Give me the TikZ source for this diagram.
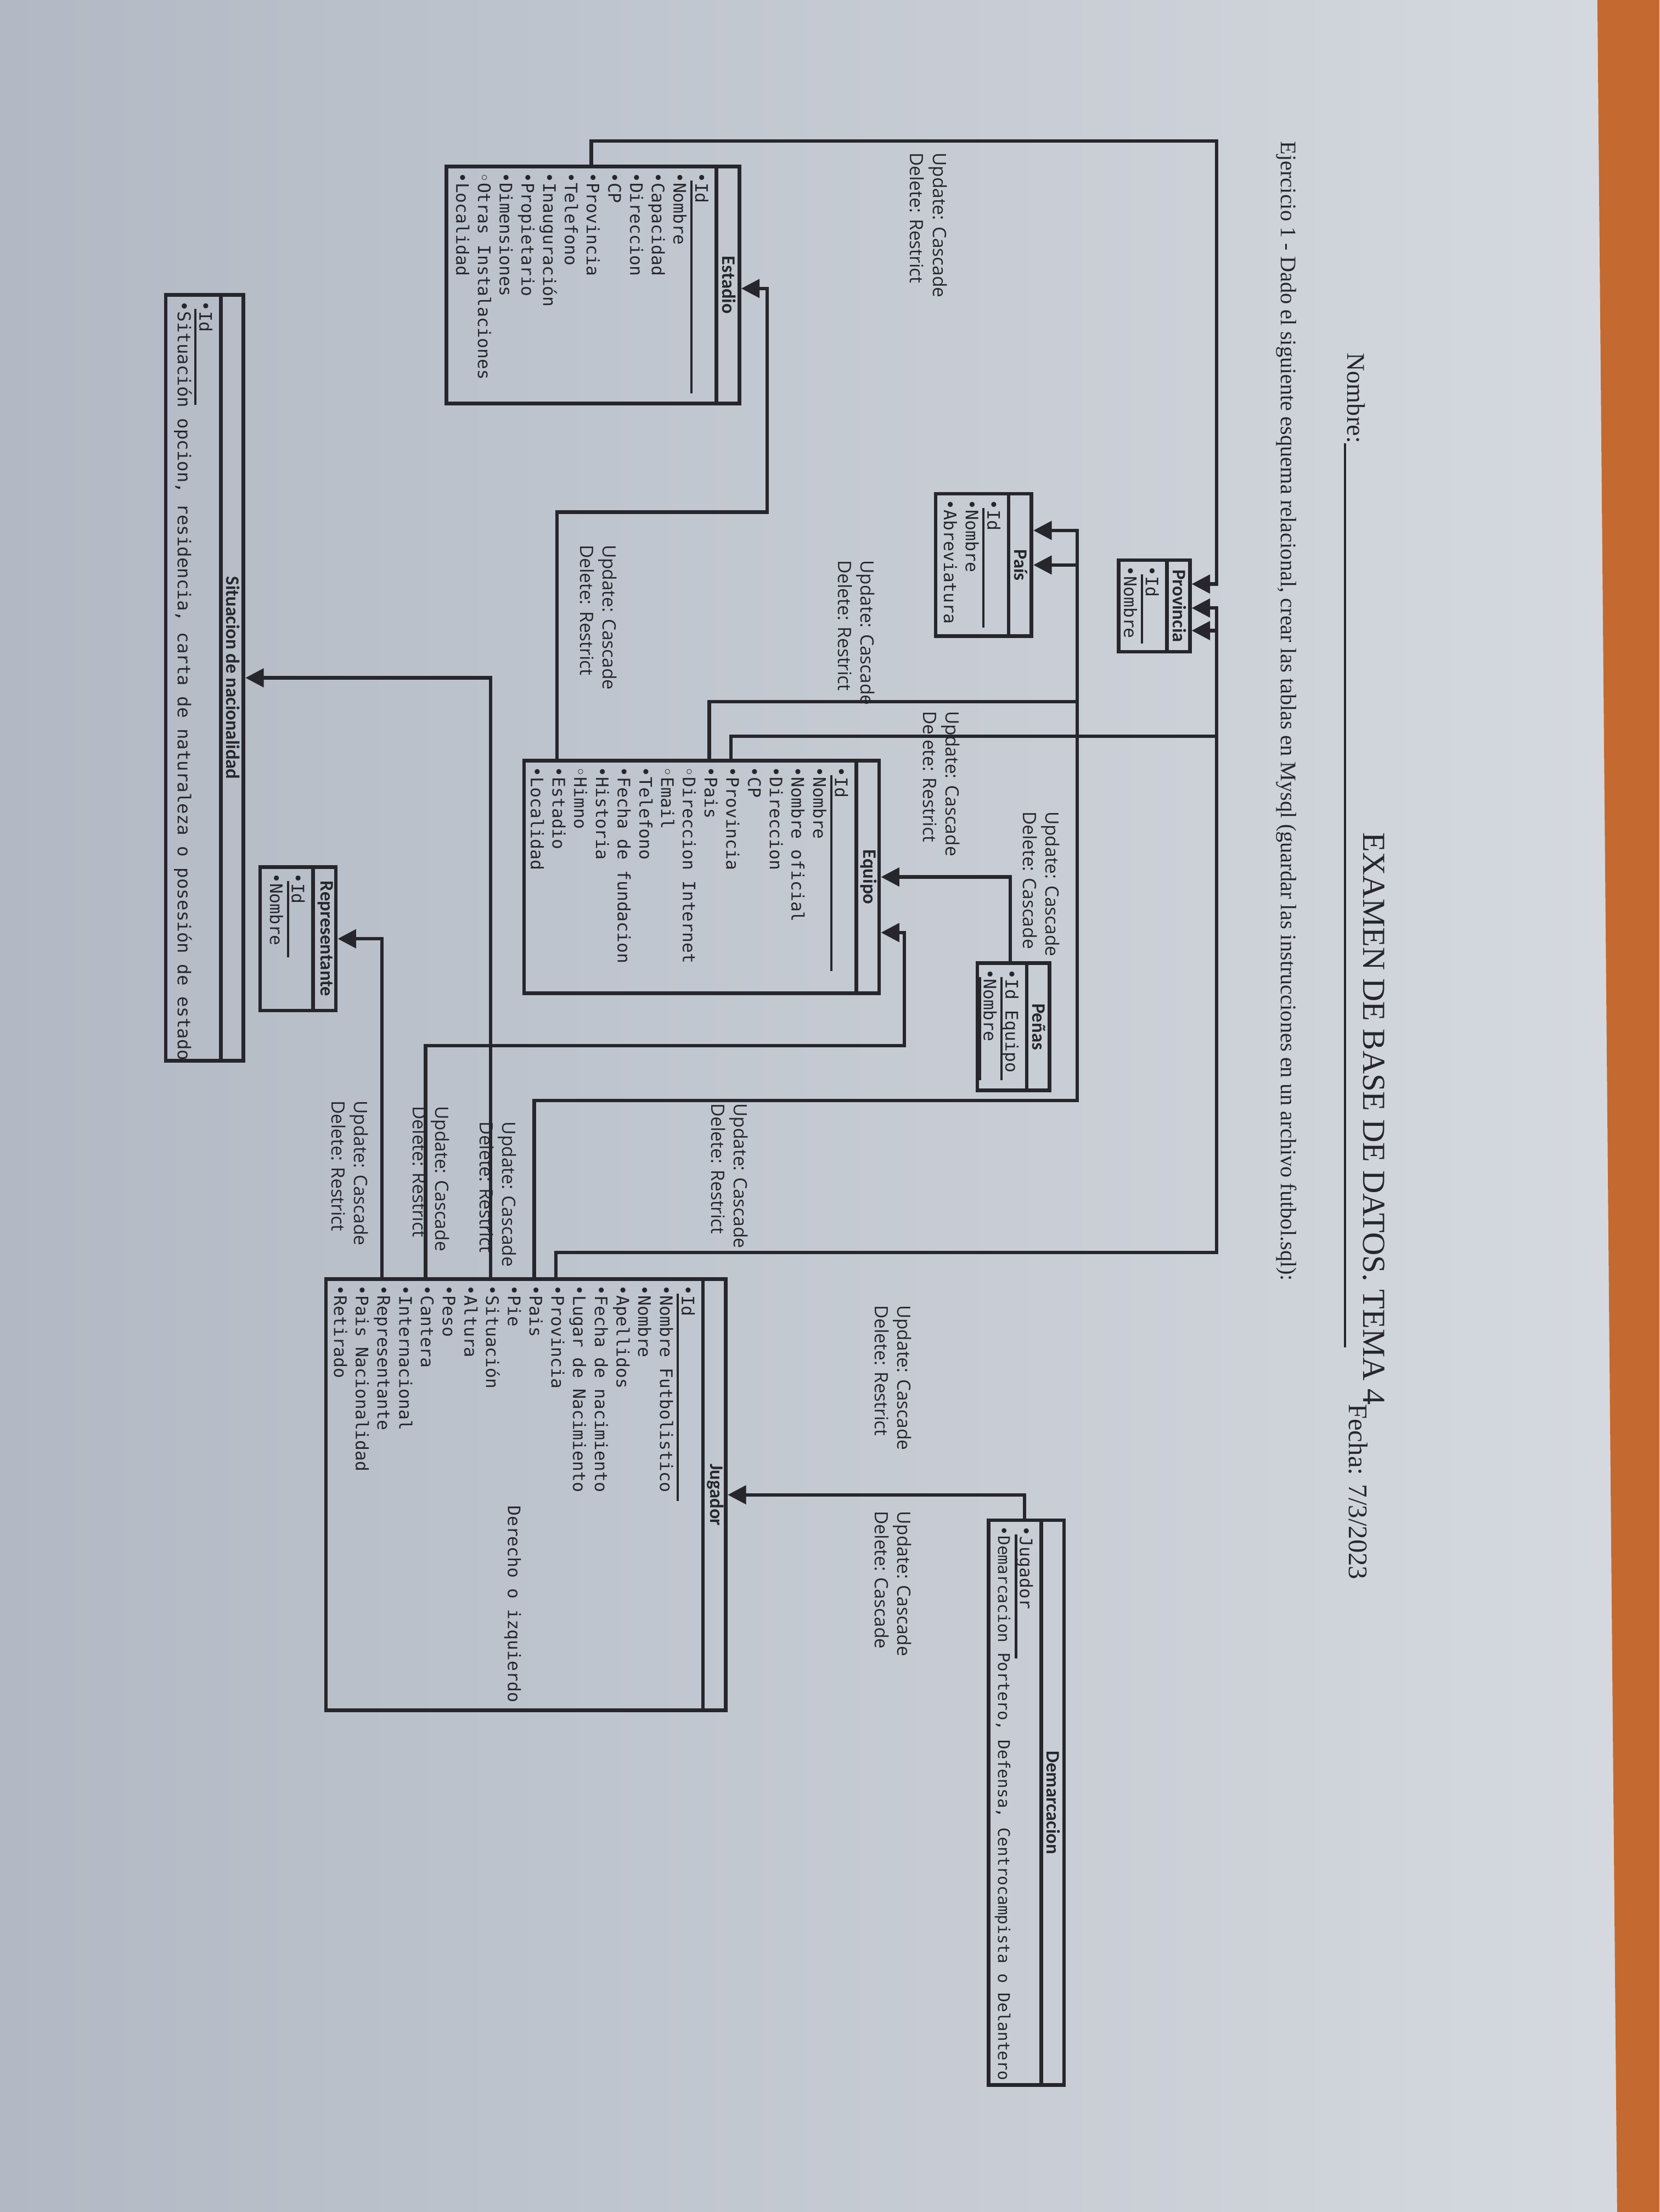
\documentclass[tikz,border=0pt]{standalone}
\usepackage{fontspec}
\setmainfont{Liberation Serif}
\newfontfamily\monofont{DejaVu Sans Mono}
\newfontfamily\cabfont{Carlito}
\newfontfamily\etiqfont{Open Sans}
\usetikzlibrary{arrows.meta}
\definecolor{papelosc}{RGB}{178,185,196}
\definecolor{papelcla}{RGB}{214,218,224}
\definecolor{madera}{RGB}{196,106,48}
\definecolor{tinta}{RGB}{38,38,44}
\tikzset{tabla/.style={draw=tinta, line width=2.6pt, rotate=-90, inner sep=0pt},
         cab/.style={rotate=-90, text=tinta, inner sep=0pt, font=\cabfont\bfseries\fontsize{13.5}{14}\selectfont},
         campo/.style={rotate=-90, anchor=west, text=tinta, inner sep=0pt, text height=9pt, text depth=2.5pt, font=\monofont\fontsize{12.2}{14}\selectfont},
         regla/.style={draw=tinta, line width=2.6pt},
         subr/.style={draw=tinta, line width=1.6pt},
         fk/.style={draw=tinta, line width=2.4pt, -{Triangle[length=13pt,width=13pt]}},
         etiq/.style={rotate=-90, anchor=west, align=left, text=tinta, inner sep=0pt, font=\etiqfont\fontsize{13}{16}\selectfont},
         titulo/.style={rotate=-90, anchor=base west, text=tinta, inner sep=0pt},
        }
% #1 name, #2 title, #3 X bottom, #4 X top, #5 Y left, #6 Y right, #7 fields
\newcommand{\tabla}[7]{%
  \node[tabla, minimum width={#6-#5}, minimum height={#4-#3}] (#1) at ({(#3+#4)/2},{-(#5+#6)/2}) {};
  \draw[regla] ([xshift=-17.5pt]#1.north west) -- ([xshift=-17.5pt]#1.north east);
  \node[cab] (#1-t) at ([xshift=-8.75pt]#1.north) {#2};
  \foreach \campo [count=\i] in {#7}
    \node[campo] (#1-\i) at ({#4-28-15.4*(\i-1)},{-#5-4}) {\campo};
}

\begin{document}
\begin{tikzpicture}[x=1pt,y=1pt]
    \useasboundingbox (0,0) rectangle (1176,-1568);
    \shade[left color=papelosc, right color=papelcla] (0,0) rectangle (1176,-1568);
    \fill[madera] (1132,0) -- (1176,0) -- (1176,-1568) -- (1146,-1568) -- cycle;

    % cabecera
    \node[titulo, font=\fontsize{22.8}{26}\selectfont] (examen) at (966,-590) {EXAMEN DE BASE DE DATOS. TEMA 4};
    \node[titulo, font=\fontsize{18}{21}\selectfont] (nombre) at (955,-250) {Nombre:};
    \node[titulo, font=\fontsize{19}{22}\selectfont] (fecha) at (956,-995) {Fecha: 7/3/2023};
    \draw[subr] ([xshift=-2pt]nombre.base east) -- ([xshift=-2pt]nombre.base east |- 0,-955);
    \node[titulo, font=\fontsize{15.7}{18}\selectfont] (enunciado) at (908,-100) {Ejercicio 1 - Dado el siguiente esquema relacional, crear las tablas en Mysql (guardar las instrucciones en un archivo futbol.sql):};

    % tablas
    \tabla{est}{Estadio}{316.4}{524}{118}{286}{•Id, •Nombre, •Capacidad, •Direccion, •CP, •Provincia, •Telefono, •Inauguración, •Propietario, •Dimensiones, ◦Otras Instalaciones, •Localidad}
    \tabla{prov}{Provincia}{792.7}{843.2}{397}{462}{•Id, •Nombre}
    \tabla{pais}{País}{663}{731}{350}{451}{•Id, •Nombre, •Abreviatura}
    \tabla{eq}{Equipo}{371.4}{623}{539.3}{704}{•Id, •Nombre, •Nombre oficial, •Direccion, •CP, •Provincia, •Pais, ◦Direccion Internet, ◦Email, •Telefono, •Fecha de fundacion, •Historia, ◦Himno, •Estadio, •Localidad}
    \tabla{pen}{Peñas}{692.6}{743.8}{682.6}{773}{•Id Equipo, •Nombre}
    \tabla{jug}{Jugador}{231}{514.4}{906.8}{1212.4}{•Id, •Nombre Futbolistico, •Nombre, •Apellidos, •Fecha de nacimiento, •Lugar de Nacimiento, •Provincia, •Pais, •Pie, •Situación, •Altura, •Peso, •Cantera, •Internacional, •Representante, •Pais Nacionalidad, •Retirado}
    \tabla{dem}{Demarcacion}{700.7}{754}{1077.6}{1478}{•Jugador, {\fontsize{11.45}{14}\selectfont•Demarcacion Portero, Defensa, Centrocampista o Delantero}}
    \tabla{rep}{Representante}{184.3}{238}{614.6}{716.3}{•Id, •Nombre}
    \tabla{sit}{Situacion de nacionalidad}{117.5}{172.6}{209}{752}{•Id, {\fontsize{12.6}{14}\selectfont•Situación opcion, residencia, carta de naturaleza o posesión de estado}}
    \node[campo] (jug-pie) at (363.2,-1067) {Derecho o izquierdo};

    % claves primarias
    \draw[subr] ([xshift=-6pt,yshift=-6pt]est-1.west) -- ++(0,-151);
    \draw[subr] ([xshift=-6pt,yshift=-6pt]prov-1.west) -- ++(0,-49);
    \draw[subr] ([xshift=-6pt,yshift=-6pt]pais-1.west) -- ++(0,-85);
    \draw[subr] ([xshift=-6pt,yshift=-6pt]eq-1.west) -- ++(0,-139);
    \draw[subr] ([xshift=-6pt,yshift=-6pt]pen-1.west) -- ++(0,-73);
    \draw[subr] ([xshift=-6pt,yshift=-6pt]pen-2.west) -- ++(0,-73);
    \draw[subr] ([xshift=-6pt,yshift=-6pt]jug-1.west) -- ++(0,-147);
    \draw[subr] ([xshift=-6pt,yshift=-6pt]dem-1.west) -- ++(0,-88);
    \draw[subr] ([xshift=-6pt,yshift=-6pt]rep-1.west) -- ++(0,-54);
    \draw[subr] ([xshift=-6pt,yshift=-6pt]sit-1.west) -- ++(0,-68);

    % claves ajenas
    \draw[fk] (est-6 |- est.west) |- (862,-100) |- ([yshift=15.5pt]prov.north);
    \draw[fk] (eq-6 |- eq.west) |- (862,-521.8) |- ([yshift=-17.5pt]prov.north);
    \draw[fk] (jug-7 |- jug.west) |- (862,-887.7) |- ([yshift=-1.5pt]prov.north);
    \draw[fk] (eq-7 |- eq.west) |- (763.5,-497.5) |- (pais.north);
    \draw[fk] (jug-8 |- jug.west) |- (763.5,-780) |- ([yshift=24.5pt]pais.north);
    \draw[fk] (eq-14 |- eq.west) |- (543.5,-363) |- ([yshift=-2.5pt]est.north);
    \draw[fk] (pen-1 |- pen.west) |- (eq.north);
    \draw[fk] (jug-13 |- jug.west) |- (640.8,-741.2) |- ([yshift=-39.4pt]eq.north);
    \draw[fk] (jug-10 |- jug.west) |- (sit.north);
    \draw[fk] (jug-15 |- jug.west) |- (rep.north);
    \draw[fk] (dem-1 |- dem.west) |- (jug.north);

    % reglas de integridad
    \node[etiq] (r1) at (658,-108) {Update: Cascade\\Delete: Restrict};
    \node[etiq] (r2) at (607,-397) {Update: Cascade\\Delete: Restrict};
    \node[etiq] (r3) at (424,-386) {Update: Cascade\\Delete: Restrict};
    \node[etiq] (r4) at (667,-504) {Update: Cascade\\Delete: Restrict};
    \node[etiq] (r5) at (738,-575) {Update: Cascade\\Delete: Cascade};
    \node[etiq] (r6) at (517,-782) {Update: Cascade\\Delete: Restrict};
    \node[etiq] (r7) at (353,-795) {Update: Cascade\\Delete: Restrict};
    \node[etiq] (r8) at (305.5,-784) {Update: Cascade\\Delete: Restrict};
    \node[etiq] (r9) at (248,-780) {Update: Cascade\\Delete: Restrict};
    \node[etiq] (r10) at (633,-925) {Update: Cascade\\Delete: Restrict};
    \node[etiq] (r11) at (633,-1071) {Update: Cascade\\Delete: Cascade};
\end{tikzpicture}
\end{document}
